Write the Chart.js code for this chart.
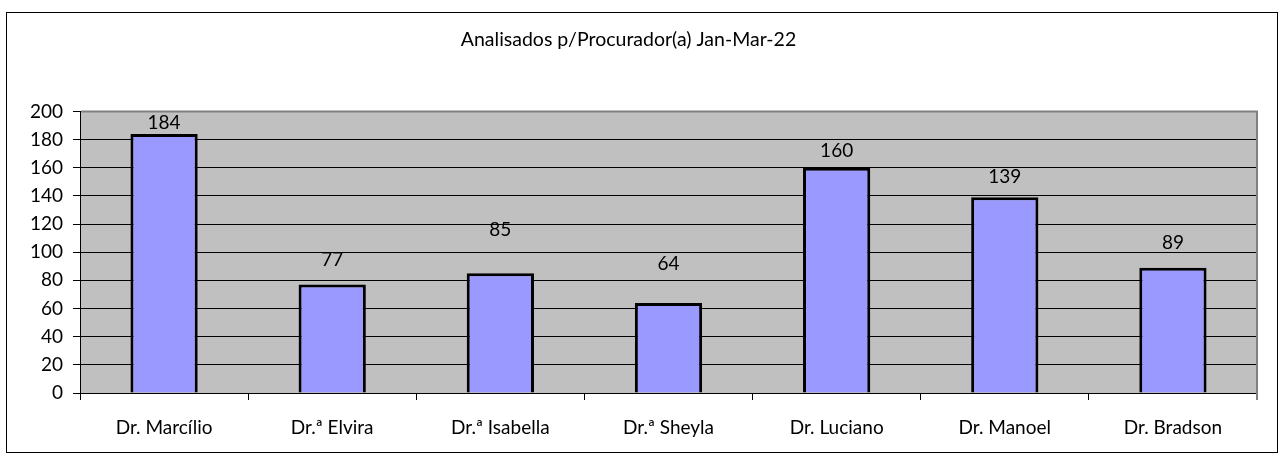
<!DOCTYPE html>
<html>
<head>
<meta charset="utf-8">
<script src="https://cdn.jsdelivr.net/npm/chart.js@4/dist/chart.umd.min.js"></script>
<style>
  html, body { margin: 0; padding: 0; background: #fff; }
  #wrap { width: 1279px; height: 460px; }
</style>
</head>
<body>
<div id="wrap"><canvas id="chart" width="1279" height="460"></canvas></div>
<script>
/* ==== dados ==== */
const chartTitle = "Analisados p/Procurador(a) Jan-Mar-22";
const procuradores = ["Dr. Marcílio", "Dr.ª Elvira", "Dr.ª Isabella", "Dr.ª Sheyla", "Dr. Luciano", "Dr. Manoel", "Dr. Bradson"];
const analisados = [184, 77, 85, 64, 160, 139, 89];
const yTicks = [0, 20, 40, 60, 80, 100, 120, 140, 160, 180, 200];

// distancia (px) entre o topo da barra e o centro do rotulo, como no original
const labelGap = [11, 25, 43, 39, 17, 20, 25];

const FONT = "Lato, 'Open Sans', sans-serif";

// moldura externa + fundo cinza da area de plotagem
const frame = {
  id: "frame",
  beforeDraw(chart) {
    const { ctx, chartArea: a } = chart;
    ctx.save();
    ctx.fillStyle = "#fff";
    ctx.fillRect(0, 0, chart.width, chart.height);
    ctx.strokeStyle = "#000";
    ctx.lineWidth = 1;
    ctx.strokeRect(6.5, 12.5, 1271, 440);
    ctx.fillStyle = "#C0C0C0";
    ctx.fillRect(a.left, a.top, a.right - a.left, a.bottom - a.top);
    ctx.restore();
  },
  afterDraw(chart) {
    const { ctx, chartArea: a } = chart;
    ctx.save();
    ctx.strokeStyle = "#808080";
    ctx.lineWidth = 2;
    ctx.beginPath();
    ctx.moveTo(a.left + 1, a.top);
    ctx.lineTo(a.right, a.top);
    ctx.lineTo(a.right, a.bottom + 7);
    ctx.stroke();
    ctx.restore();
  }
};

// rotulos de valor acima das barras
const valueLabels = {
  id: "valueLabels",
  afterDatasetsDraw(chart) {
    const { ctx } = chart;
    const meta = chart.getDatasetMeta(0);
    ctx.save();
    ctx.font = "19px " + FONT;
    ctx.fillStyle = "#000";
    ctx.textAlign = "center";
    ctx.textBaseline = "middle";
    meta.data.forEach((bar, i) => {
      ctx.fillText(String(analisados[i]), bar.x, bar.y - labelGap[i]);
    });
    ctx.restore();
  }
};

new Chart(document.getElementById("chart"), {
  type: "bar",
  data: {
    labels: procuradores,
    datasets: [{
      data: analisados,
      backgroundColor: "#9999FF",
      borderColor: "#000",
      borderWidth: 3,
      categoryPercentage: 1,
      barPercentage: 0.4
    }]
  },
  options: {
    responsive: false,
    animation: false,
    layout: { padding: { top: 12, left: 0, right: 22, bottom: 0 } },
    plugins: {
      legend: { display: false },
      tooltip: { enabled: false },
      title: {
        display: true,
        text: chartTitle,
        color: "#000",
        font: { family: FONT, size: 19.5, weight: "normal" },
        padding: { top: 16, bottom: 60 }
      }
    },
    scales: {
      x: {
        afterFit(s) { s.height = 67; },
        grid: { drawOnChartArea: false, drawTicks: true, tickLength: 7, color: "#000", offset: true },
        border: { color: "#000", width: 1 },
        ticks: { color: "#000", padding: 16, font: { family: FONT, size: 19 }, maxRotation: 0 }
      },
      y: {
        min: 0,
        max: 200,
        afterFit(s) { s.width = 80; },
        afterBuildTicks(s) { s.ticks = yTicks.map(v => ({ value: v })); },
        grid: { color: "#000", lineWidth: 1, tickLength: 7 },
        border: { color: "#000", width: 1 },
        ticks: { color: "#000", padding: 10, font: { family: FONT, size: 19 } }
      }
    }
  },
  plugins: [frame, valueLabels]
});
</script>
</body>
</html>
